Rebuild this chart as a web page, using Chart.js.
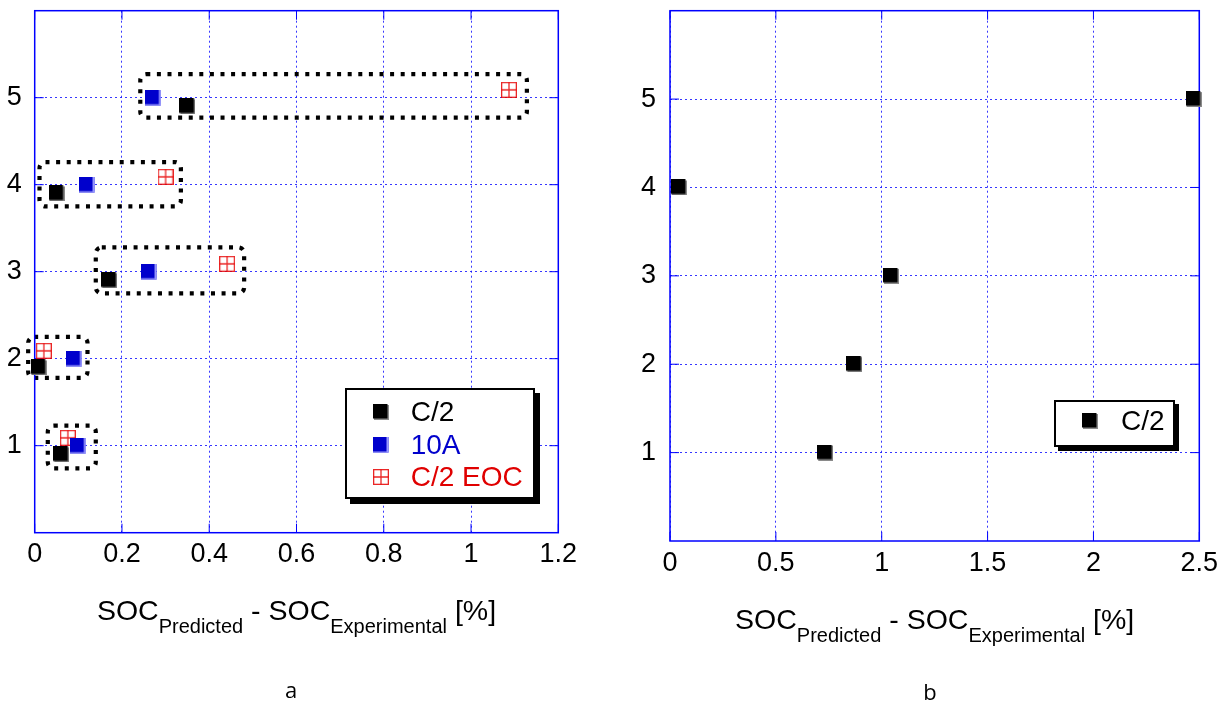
<!DOCTYPE html>
<html>
<head>
<meta charset="utf-8">
<title>SOC error</title>
<script src="https://cdn.jsdelivr.net/npm/chart.js@4.4.1/dist/chart.umd.min.js"></script>
<style>
  body { margin: 0; background: #fff; }
  #page { position: relative; width: 1228px; height: 707px; overflow: hidden; font-family: 'Liberation Sans', Arial, sans-serif; }
  canvas.plot { position: absolute; top: 0; }
  .axis-title { position: absolute; width: 600px; text-align: center; font-size: 28.5px; line-height: 28px; white-space: nowrap; color: #000; }
  .axis-title .sub { font-size: 20px; line-height: 20px; vertical-align: -13px; }
  .caption { position: absolute; width: 40px; text-align: center; font-family: 'Open Sans', sans-serif; font-size: 22px; line-height: 30px; color: #000; }
  .legend { position: absolute; background: #fff; border: 2px solid #000; box-shadow: 5px 5px 0 #000; }
  .legend .item { position: absolute; height: 30px; line-height: 30px; font-size: 28px; white-space: nowrap; }
  .legend canvas { position: absolute; }
</style>
</head>
<body>
<div id="page">
  <canvas id="chartA" class="plot" width="614" height="707" style="left:0px"></canvas>
  <canvas id="chartB" class="plot" width="614" height="707" style="left:614px"></canvas>

  <div class="axis-title" style="left:-3.5px; top:596px">SOC<span class="sub">Predicted</span> - SOC<span class="sub">Experimental</span> [%]</div>
  <div class="axis-title" style="left:634.7px; top:604.5px">SOC<span class="sub">Predicted</span> - SOC<span class="sub">Experimental</span> [%]</div>

  <div class="caption" style="left:271px; top:674px">a</div>
  <div class="caption" style="left:910px; top:676px">b</div>

  <div id="legendA" class="legend" style="left:345px; top:388px; width:186px; height:107px"></div>
  <div id="legendB" class="legend" style="left:1054px; top:400px; width:117px; height:43px; box-shadow:4px 4px 0 #000"></div>
</div>

<script>
// ---- data (chart a) ----
const c2X  = [0.061, 0.009, 0.171, 0.050, 0.350];
const c2Y  = [0.90, 1.90, 2.90, 3.90, 4.90];
const a10X = [0.100, 0.091, 0.262, 0.120, 0.272];
const a10Y = [1.00, 2.00, 3.00, 4.00, 5.00];
const eocX = [0.076, 0.021, 0.441, 0.300, 1.087];
const eocY = [1.09, 2.09, 3.09, 4.09, 5.09];

// dotted groups around each case: [xMin, xMax, yMin, yMax] in data units
const groupBoxes = [
  [0.030, 0.140, 0.74, 1.23],
  [-0.015, 0.121, 1.78, 2.25],
  [0.140, 0.480, 2.75, 3.28],
  [0.011, 0.335, 3.75, 4.26],
  [0.242, 1.128, 4.77, 5.27]
];

// ---- data (chart b) ----
const c2bX = [0.733, 0.871, 1.044, 0.042, 2.473];
const c2bY = [1, 2, 3, 4, 5];

const seriesLabelsA = ['C/2', '10A', 'C/2 EOC'];
const seriesLabelsB = ['C/2'];

const FONT = "'Liberation Sans', Arial, sans-serif";
const GRID_COLOR = 'rgba(20, 20, 255, 0.85)';
const FRAME_COLOR = '#0000ff';
const textColors = { black: '#000000', blue: '#0000cc', red: '#e00000' };

// marker images, used both by chart points and the html legends
function makeMarker(kind) {
  const c = document.createElement('canvas');
  c.width = 16; c.height = 16;
  const g = c.getContext('2d');
  if (kind === 'black') {
    g.fillStyle = '#8a8a8a';
    g.fillRect(1, 1, 15, 15);
    g.fillStyle = '#000';
    g.fillRect(0, 0, 14.5, 14.5);
  } else if (kind === 'blue') {
    g.fillStyle = '#0000cc';
    g.fillRect(0, 0, 15.5, 15.5);
    g.fillStyle = '#9a9aff';
    g.fillRect(13.5, 0, 2, 15.5);
    g.fillRect(0, 14.5, 15.5, 1);
  } else {
    g.strokeStyle = 'rgba(230, 0, 0, 0.85)';
    g.lineWidth = 1.3;
    g.strokeRect(0.65, 0.65, 14.7, 14.7);
    g.beginPath();
    g.moveTo(8, 0.5); g.lineTo(8, 15.5);
    g.moveTo(0.5, 8); g.lineTo(15.5, 8);
    g.stroke();
  }
  return c;
}

function toPoints(xs, ys) {
  return xs.map((x, i) => ({ x: x, y: ys[i] }));
}

// frame, inner tick marks and the dotted group boxes
const framePlugin = {
  id: 'frame',
  beforeDatasetsDraw(chart, args, opts) {
    const { ctx, chartArea: a, scales } = chart;
    ctx.save();

    // dotted boxes (chart a only)
    (opts.boxes || []).forEach(function (b) {
      const x1 = scales.x.getPixelForValue(b[0]);
      const x2 = scales.x.getPixelForValue(b[1]);
      const y1 = scales.y.getPixelForValue(b[3]);
      const y2 = scales.y.getPixelForValue(b[2]);
      ctx.beginPath();
      ctx.setLineDash([4, 6.6]);
      ctx.lineWidth = 4.2;
      ctx.strokeStyle = '#000';
      ctx.roundRect(x1, y1, x2 - x1, y2 - y1, 6);
      ctx.stroke();
    });

    ctx.setLineDash([]);
    ctx.strokeStyle = FRAME_COLOR;
    ctx.lineWidth = 1.5;
    ctx.strokeRect(a.left, a.top, a.right - a.left, a.bottom - a.top);

    // short solid ticks on the inside of the frame
    ctx.lineWidth = 1;
    ctx.beginPath();
    scales.x.ticks.forEach(function (t) {
      const px = scales.x.getPixelForValue(t.value);
      ctx.moveTo(px, a.bottom); ctx.lineTo(px, a.bottom - 9);
      ctx.moveTo(px, a.top); ctx.lineTo(px, a.top + 9);
    });
    scales.y.ticks.forEach(function (t) {
      const py = scales.y.getPixelForValue(t.value);
      ctx.moveTo(a.left, py); ctx.lineTo(a.left + 9, py);
      ctx.moveTo(a.right, py); ctx.lineTo(a.right - 9, py);
    });
    ctx.stroke();
    ctx.restore();
  }
};

function makeOptions(cfg) {
  return {
    responsive: false,
    animation: false,
    layout: { padding: { left: 0, top: cfg.top, right: cfg.right, bottom: cfg.bottom } },
    plugins: {
      legend: { display: false },
      tooltip: { enabled: false },
      frame: { boxes: cfg.boxes || [] }
    },
    scales: {
      x: {
        type: 'linear',
        min: 0,
        max: cfg.xMax,
        ticks: {
          stepSize: cfg.xStep,
          autoSkip: false,
          maxRotation: 0,
          padding: 6,
          color: '#000',
          font: { family: FONT, size: 27 },
          callback: v => String(+v.toFixed(2))
        },
        grid: { color: GRID_COLOR, lineWidth: 1, drawTicks: false },
        border: { display: false, dash: [2, 3] },
        afterFit: function (s) { s.height = 50; s.paddingLeft = 0; s.paddingRight = 0; }
      },
      y: {
        type: 'linear',
        min: 0,
        max: 6,
        afterBuildTicks: function (s) {
          s.ticks = s.ticks.filter(t => t.value >= 1 && t.value <= 5);
        },
        ticks: {
          stepSize: 1,
          padding: cfg.yPad,
          color: '#000',
          font: { family: FONT, size: 27 }
        },
        grid: { color: GRID_COLOR, lineWidth: 1, drawTicks: false },
        border: { display: false, dash: [2, 3] },
        afterFit: function (s) { s.width = cfg.yWidth; s.paddingTop = 0; s.paddingBottom = 0; }
      }
    }
  };
}

const markerBlack = makeMarker('black');
const markerBlue = makeMarker('blue');
const markerRed = makeMarker('red');

// chart a
new Chart(document.getElementById('chartA'), {
  type: 'scatter',
  data: {
    datasets: [
      { label: seriesLabelsA[0], data: toPoints(c2X, c2Y), pointStyle: markerBlack, clip: false },
      { label: seriesLabelsA[1], data: toPoints(a10X, a10Y), pointStyle: markerBlue, clip: false },
      { label: seriesLabelsA[2], data: toPoints(eocX, eocY), pointStyle: markerRed, clip: false }
    ]
  },
  options: makeOptions({ top: 10.7, right: 55.7, bottom: 124.3, yWidth: 34.7, yPad: 13, xMax: 1.2, xStep: 0.2, boxes: groupBoxes }),
  plugins: [framePlugin]
});

// chart b
new Chart(document.getElementById('chartB'), {
  type: 'scatter',
  data: {
    datasets: [
      { label: seriesLabelsB[0], data: toPoints(c2bX, c2bY), pointStyle: markerBlack, clip: false }
    ]
  },
  options: makeOptions({ top: 10.7, right: 28.7, bottom: 116, yWidth: 56, yPad: 14, xMax: 2.5, xStep: 0.5 }),
  plugins: [framePlugin]
});

// html legends
function buildLegend(id, labels, kinds, colors, rows, markerX, textX) {
  const box = document.getElementById(id);
  labels.forEach(function (label, i) {
    const m = makeMarker(kinds[i]);
    m.style.left = (markerX - 8) + 'px';
    m.style.top = (rows[i] - 8) + 'px';
    box.appendChild(m);
    const t = document.createElement('div');
    t.className = 'item';
    t.style.left = textX + 'px';
    t.style.top = (rows[i] - 15) + 'px';
    t.style.color = colors[i];
    t.textContent = label;
    box.appendChild(t);
  });
}

buildLegend('legendA', seriesLabelsA, ['black', 'blue', 'red'],
  [textColors.black, textColors.blue, textColors.red], [22, 55.3, 87], 33.7, 63.7);
buildLegend('legendB', seriesLabelsB, ['black'], [textColors.black], [19.2], 34, 65);
</script>
</body>
</html>
